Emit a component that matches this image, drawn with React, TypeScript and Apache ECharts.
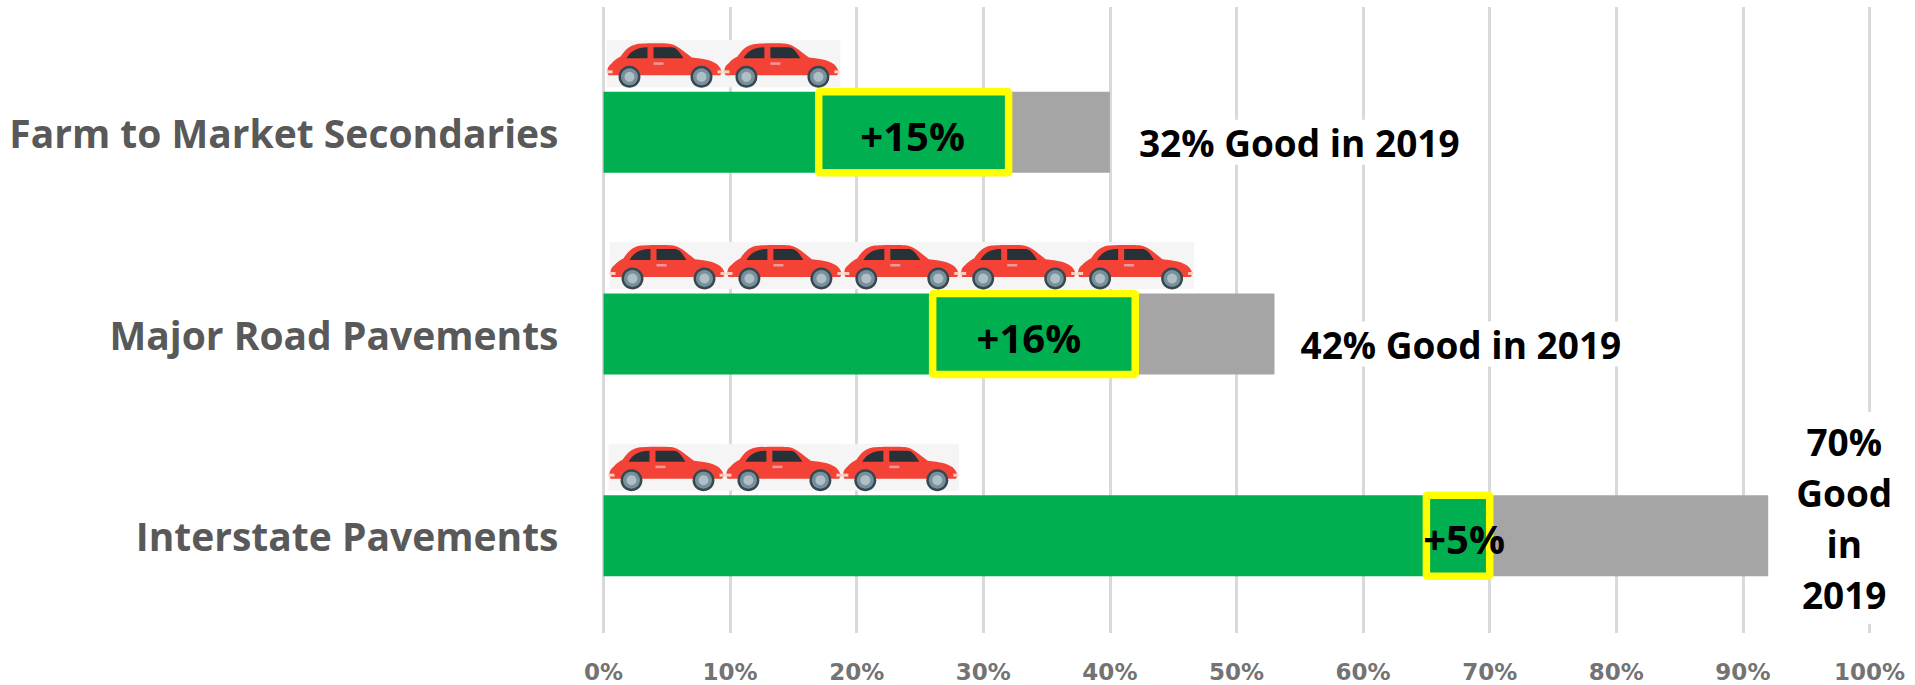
import React, { useEffect, useRef } from "react";
import * as echarts from "echarts";

const categories = ["Farm to Market Secondaries", "Major Road Pavements", "Interstate Pavements"];
const baseValues = [17, 26, 65];
const gainValues = [15, 16, 5];
const restValues = [8, 11, 22];
const gainLabels = ["+15%", "+16%", "+5%"];
const carCounts = [2, 5, 3];
const notes = ["32% Good in 2019", "42% Good in 2019", "70%\nGood\nin\n2019"];
const xTicks = [0, 10, 20, 30, 40, 50, 60, 70, 80, 90, 100];

const FONT = "'Open Sans', 'Noto Sans', sans-serif";
const CAR_W = 116.9;
const CAR_H = 47;
const GRID_L = 603.5;
const GRID_W = 1266;
const BAR_H = 81;
const carRowShift = [3, 6, 5];
const gainTextShift = [-1, -5, 6];

function carShape(x: number, y: number) {
  const wheel = (cx: number) => [
    { type: "circle", shape: { cx: x + cx, cy: y + 36.5, r: 11 }, style: { fill: "#37474f" } },
    { type: "circle", shape: { cx: x + cx, cy: y + 36.5, r: 8.5 }, style: { fill: "#78909c" } },
    { type: "circle", shape: { cx: x + cx, cy: y + 36.5, r: 5 }, style: { fill: "#b0bec5" } },
  ];
  return {
    type: "group",
    children: [
      { type: "rect", shape: { x, y, width: CAR_W, height: CAR_H }, style: { fill: "#f5f5f5" } },
      {
        type: "path",
        shape: {
          pathData:
            "M2 35 C0 30 1 26 5 23 C8 19 11 18 14 16 C18 10 22 5 30 3.5 C36 2.5 58 2.5 62 3 C70 4 76 10 85 17 C96 18 108 20 112 26 C115 30 115 33 113 35 Z",
          x: x + 1,
          y: y + 3,
          width: 114,
          height: 32,
          layout: "cover",
        },
        style: { fill: "#f44336" },
      },
      {
        type: "path",
        shape: {
          pathData: "M21 0 L21 11 L0 11 C4 4 10 0 21 0 Z",
          x: x + 20,
          y: y + 7,
          width: 21,
          height: 11,
          layout: "cover",
        },
        style: { fill: "#263238" },
      },
      {
        type: "path",
        shape: {
          pathData: "M0 0 L18 0 C22 0 25 3 30 11 L0 11 Z",
          x: x + 47,
          y: y + 7,
          width: 30,
          height: 11,
          layout: "cover",
        },
        style: { fill: "#263238" },
      },
      { type: "rect", shape: { x: x + 47, y: y + 22, width: 10, height: 2.5 }, style: { fill: "#ef9a9a" } },
      { type: "rect", shape: { x: x, y: y + 30, width: 6, height: 3 }, style: { fill: "#ffccbc" } },
      { type: "rect", shape: { x: x + 111, y: y + 30, width: 5, height: 3 }, style: { fill: "#ffccbc" } },
      ...wheel(23),
      ...wheel(95),
    ],
  };
}

export default function App() {
  const ref = useRef<HTMLDivElement>(null);
  useEffect(() => {
    document.body.style.margin = "0";
    const chart = echarts.init(ref.current!, undefined, { renderer: "svg" });
    chart.setOption({
      animation: false,
      backgroundColor: "#ffffff",
      grid: [
        { left: GRID_L, width: GRID_W, top: 7, height: 626 },
        { left: GRID_L, width: GRID_W, top: 31.5, height: 605 },
      ],
      xAxis: [
        {
          gridIndex: 0,
          type: "value",
          min: 0,
          max: 100,
          interval: 10,
          axisLine: { show: false },
          axisTick: { show: false },
          splitLine: { show: true, lineStyle: { color: "#d9d9d9", width: 3 } },
          axisLabel: {
            margin: 25,
            color: "#737373",
            fontFamily: "'DejaVu Sans', sans-serif",
            fontWeight: "bold",
            fontSize: 23,
            lineHeight: 27,
            hideOverlap: false,
            showMinLabel: true,
            showMaxLabel: true,
            formatter: (v: number) => (xTicks.includes(v) ? v + "%" : ""),
          },
        },
        { gridIndex: 1, type: "value", min: 0, max: 100, interval: 10, show: false },
      ],
      yAxis: [
        { gridIndex: 0, type: "category", data: categories, show: false, inverse: true },
        {
          gridIndex: 1,
          type: "category",
          data: categories,
          inverse: true,
          axisLine: { show: false },
          axisTick: { show: false },
          axisLabel: {
            margin: 45,
            color: "#595959",
            fontFamily: FONT,
            fontWeight: "bold",
            fontSize: 39,
            padding: [0, 0, 3, 0],
          },
        },
      ],
      series: [
        {
          type: "bar",
          xAxisIndex: 1,
          yAxisIndex: 1,
          stack: "s",
          barWidth: BAR_H,
          z: 3,
          data: baseValues,
          itemStyle: { color: "#00b050" },
        },
        {
          type: "bar",
          xAxisIndex: 1,
          yAxisIndex: 1,
          stack: "s",
          barWidth: BAR_H,
          z: 3,
          data: gainValues,
          itemStyle: { color: "#00b050" },
        },
        {
          type: "bar",
          xAxisIndex: 1,
          yAxisIndex: 1,
          stack: "s",
          barWidth: BAR_H,
          z: 3,
          data: restValues.map((v, i) => ({
            value: v,
            label:
              i === 2
                ? { show: true, distance: 76, offset: [0, -18], align: "center", lineHeight: 51 }
                : { show: true, distance: i === 0 ? 23 : 20, offset: [0, 10], align: "left" },
          })),
          itemStyle: { color: "#a5a5a5" },
          label: {
            position: "right",
            formatter: (p: any) => notes[p.dataIndex],
            color: "#000000",
            fontFamily: FONT,
            fontWeight: "bold",
            fontSize: 37,
            backgroundColor: "#ffffff",
            padding: [4, 6],
          },
        },
        {
          type: "custom",
          xAxisIndex: 1,
          yAxisIndex: 1,
          z: 5,
          data: baseValues.map((b, i) => [b, b + gainValues[i], i]),
          encode: { x: [0, 1], y: 2 },
          renderItem: (_p: any, api: any) => {
            const i = api.value(2);
            const a = api.coord([api.value(0), i]);
            const b = api.coord([api.value(1), i]);
            return {
              type: "group",
              children: [
                {
                  type: "rect",
                  shape: { x: a[0], y: a[1] - BAR_H / 2, width: b[0] - a[0], height: BAR_H, r: 1 },
                  style: { fill: "none", stroke: "#ffff00", lineWidth: 7.5 },
                },
                {
                  type: "text",
                  style: {
                    text: gainLabels[i],
                    x: (a[0] + b[0]) / 2 + gainTextShift[i],
                    y: a[1] + 3,
                    align: "center",
                    verticalAlign: "middle",
                    fill: "#000000",
                    fontFamily: FONT,
                    fontWeight: "bold",
                    fontSize: 40,
                  },
                },
              ],
            };
          },
        },
        {
          type: "custom",
          xAxisIndex: 1,
          yAxisIndex: 1,
          z: 6,
          data: carCounts.map((c, i) => [c, i]),
          encode: { x: 0, y: 1 },
          renderItem: (_p: any, api: any) => {
            const count = api.value(0);
            const row = api.value(1);
            const pt = api.coord([0, row]);
            const children = [];
            for (let k = 0; k < count; k++) {
              children.push(carShape(pt[0] + carRowShift[row] + k * CAR_W, pt[1] - 92));
            }
            return { type: "group", children };
          },
        },
      ],
    });
    return () => chart.dispose();
  }, []);
  return <div ref={ref} style={{ position: "absolute", left: 0, top: 0, width: 1915, height: 685 }} />;
}
